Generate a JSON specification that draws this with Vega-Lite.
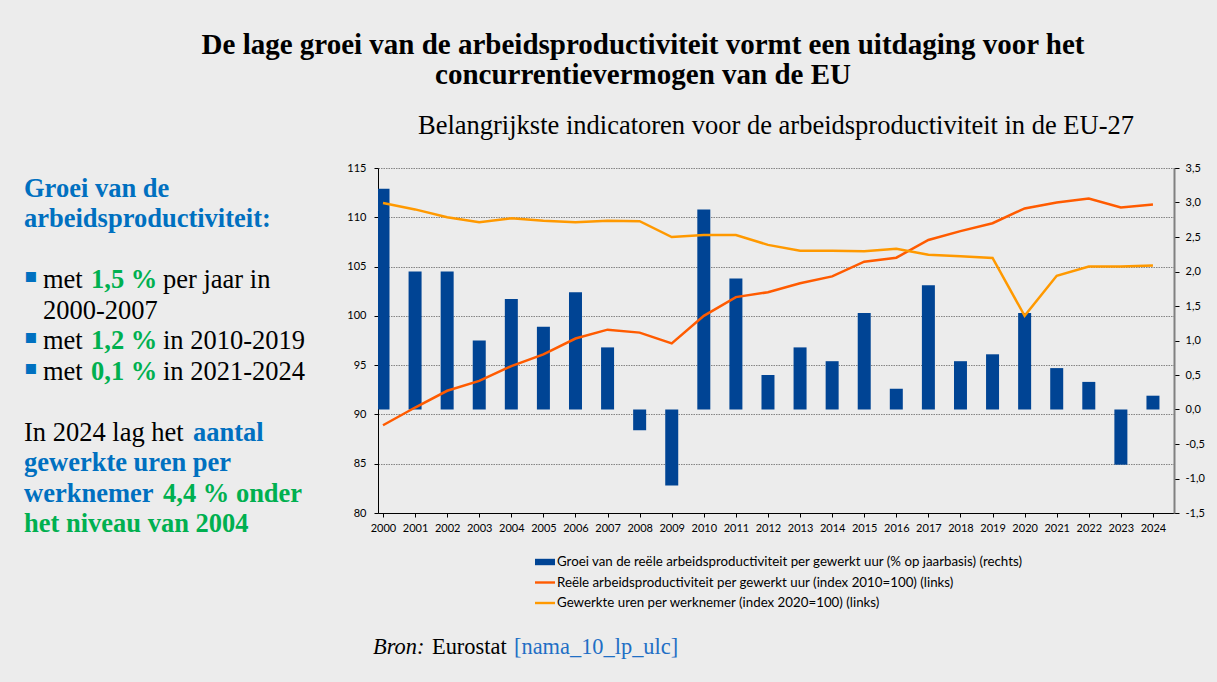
{
  "$schema": "https://vega.github.io/schema/vega-lite/v6.json",
  "background": "#ECECEC",
  "padding": {"left": 0, "top": 31, "right": 20, "bottom": 40},
  "bounds": "flush",
  "spacing": 38,
  "title": {
    "text": ["De lage groei van de arbeidsproductiviteit vormt een uitdaging voor het", "concurrentievermogen van de EU"],
    "font": "Liberation Serif",
    "fontSize": 29,
    "fontWeight": "bold",
    "lineHeight": 29.5,
    "color": "#000000",
    "anchor": "start",
    "align": "center",
    "frame": "group",
    "dx": 643,
    "offset": 23
  },
  "config": {
    "view": {"stroke": null},
    "axis": {
      "labelFont": "Lato",
      "labelFontSize": 11,
      "labelColor": "#000000",
      "domainColor": "#000000",
      "tickColor": "#000000",
      "title": null
    },
    "legend": {
      "orient": "none",
      "legendX": 535,
      "legendY": 384,
      "direction": "vertical",
      "padding": 0,
      "labelFont": "Lato",
      "labelFontSize": 13.3,
      "labelColor": "#000000",
      "labelLimit": 800,
      "labelOffset": 2,
      "symbolSize": 400,
      "rowPadding": 3.5
    }
  },
  "datasets": {
    "groei": [
      {"jaar": 2000, "groei": 3.2}, {"jaar": 2001, "groei": 2.0}, {"jaar": 2002, "groei": 2.0},
      {"jaar": 2003, "groei": 1.0}, {"jaar": 2004, "groei": 1.6}, {"jaar": 2005, "groei": 1.2},
      {"jaar": 2006, "groei": 1.7}, {"jaar": 2007, "groei": 0.9}, {"jaar": 2008, "groei": -0.3},
      {"jaar": 2009, "groei": -1.1}, {"jaar": 2010, "groei": 2.9}, {"jaar": 2011, "groei": 1.9},
      {"jaar": 2012, "groei": 0.5}, {"jaar": 2013, "groei": 0.9}, {"jaar": 2014, "groei": 0.7},
      {"jaar": 2015, "groei": 1.4}, {"jaar": 2016, "groei": 0.3}, {"jaar": 2017, "groei": 1.8},
      {"jaar": 2018, "groei": 0.7}, {"jaar": 2019, "groei": 0.8}, {"jaar": 2020, "groei": 1.4},
      {"jaar": 2021, "groei": 0.6}, {"jaar": 2022, "groei": 0.4}, {"jaar": 2023, "groei": -0.8},
      {"jaar": 2024, "groei": 0.2}
    ],
    "index": [
      {"jaar": 2000, "reeks": "Reële arbeidsproductiviteit per gewerkt uur (index 2010=100) (links)", "waarde": 88.9},
      {"jaar": 2001, "reeks": "Reële arbeidsproductiviteit per gewerkt uur (index 2010=100) (links)", "waarde": 90.7},
      {"jaar": 2002, "reeks": "Reële arbeidsproductiviteit per gewerkt uur (index 2010=100) (links)", "waarde": 92.4},
      {"jaar": 2003, "reeks": "Reële arbeidsproductiviteit per gewerkt uur (index 2010=100) (links)", "waarde": 93.4},
      {"jaar": 2004, "reeks": "Reële arbeidsproductiviteit per gewerkt uur (index 2010=100) (links)", "waarde": 94.9},
      {"jaar": 2005, "reeks": "Reële arbeidsproductiviteit per gewerkt uur (index 2010=100) (links)", "waarde": 96.1},
      {"jaar": 2006, "reeks": "Reële arbeidsproductiviteit per gewerkt uur (index 2010=100) (links)", "waarde": 97.7},
      {"jaar": 2007, "reeks": "Reële arbeidsproductiviteit per gewerkt uur (index 2010=100) (links)", "waarde": 98.6},
      {"jaar": 2008, "reeks": "Reële arbeidsproductiviteit per gewerkt uur (index 2010=100) (links)", "waarde": 98.3},
      {"jaar": 2009, "reeks": "Reële arbeidsproductiviteit per gewerkt uur (index 2010=100) (links)", "waarde": 97.2},
      {"jaar": 2010, "reeks": "Reële arbeidsproductiviteit per gewerkt uur (index 2010=100) (links)", "waarde": 100.0},
      {"jaar": 2011, "reeks": "Reële arbeidsproductiviteit per gewerkt uur (index 2010=100) (links)", "waarde": 101.9},
      {"jaar": 2012, "reeks": "Reële arbeidsproductiviteit per gewerkt uur (index 2010=100) (links)", "waarde": 102.4},
      {"jaar": 2013, "reeks": "Reële arbeidsproductiviteit per gewerkt uur (index 2010=100) (links)", "waarde": 103.3},
      {"jaar": 2014, "reeks": "Reële arbeidsproductiviteit per gewerkt uur (index 2010=100) (links)", "waarde": 104.0},
      {"jaar": 2015, "reeks": "Reële arbeidsproductiviteit per gewerkt uur (index 2010=100) (links)", "waarde": 105.5},
      {"jaar": 2016, "reeks": "Reële arbeidsproductiviteit per gewerkt uur (index 2010=100) (links)", "waarde": 105.9},
      {"jaar": 2017, "reeks": "Reële arbeidsproductiviteit per gewerkt uur (index 2010=100) (links)", "waarde": 107.7},
      {"jaar": 2018, "reeks": "Reële arbeidsproductiviteit per gewerkt uur (index 2010=100) (links)", "waarde": 108.6},
      {"jaar": 2019, "reeks": "Reële arbeidsproductiviteit per gewerkt uur (index 2010=100) (links)", "waarde": 109.4},
      {"jaar": 2020, "reeks": "Reële arbeidsproductiviteit per gewerkt uur (index 2010=100) (links)", "waarde": 110.9},
      {"jaar": 2021, "reeks": "Reële arbeidsproductiviteit per gewerkt uur (index 2010=100) (links)", "waarde": 111.5},
      {"jaar": 2022, "reeks": "Reële arbeidsproductiviteit per gewerkt uur (index 2010=100) (links)", "waarde": 111.9},
      {"jaar": 2023, "reeks": "Reële arbeidsproductiviteit per gewerkt uur (index 2010=100) (links)", "waarde": 111.0},
      {"jaar": 2024, "reeks": "Reële arbeidsproductiviteit per gewerkt uur (index 2010=100) (links)", "waarde": 111.3},
      {"jaar": 2000, "reeks": "Gewerkte uren per werknemer (index 2020=100) (links)", "waarde": 111.45},
      {"jaar": 2001, "reeks": "Gewerkte uren per werknemer (index 2020=100) (links)", "waarde": 110.8},
      {"jaar": 2002, "reeks": "Gewerkte uren per werknemer (index 2020=100) (links)", "waarde": 110.0},
      {"jaar": 2003, "reeks": "Gewerkte uren per werknemer (index 2020=100) (links)", "waarde": 109.5},
      {"jaar": 2004, "reeks": "Gewerkte uren per werknemer (index 2020=100) (links)", "waarde": 109.9},
      {"jaar": 2005, "reeks": "Gewerkte uren per werknemer (index 2020=100) (links)", "waarde": 109.65},
      {"jaar": 2006, "reeks": "Gewerkte uren per werknemer (index 2020=100) (links)", "waarde": 109.5},
      {"jaar": 2007, "reeks": "Gewerkte uren per werknemer (index 2020=100) (links)", "waarde": 109.65},
      {"jaar": 2008, "reeks": "Gewerkte uren per werknemer (index 2020=100) (links)", "waarde": 109.6},
      {"jaar": 2009, "reeks": "Gewerkte uren per werknemer (index 2020=100) (links)", "waarde": 108.0},
      {"jaar": 2010, "reeks": "Gewerkte uren per werknemer (index 2020=100) (links)", "waarde": 108.2},
      {"jaar": 2011, "reeks": "Gewerkte uren per werknemer (index 2020=100) (links)", "waarde": 108.2},
      {"jaar": 2012, "reeks": "Gewerkte uren per werknemer (index 2020=100) (links)", "waarde": 107.2},
      {"jaar": 2013, "reeks": "Gewerkte uren per werknemer (index 2020=100) (links)", "waarde": 106.6},
      {"jaar": 2014, "reeks": "Gewerkte uren per werknemer (index 2020=100) (links)", "waarde": 106.6},
      {"jaar": 2015, "reeks": "Gewerkte uren per werknemer (index 2020=100) (links)", "waarde": 106.55},
      {"jaar": 2016, "reeks": "Gewerkte uren per werknemer (index 2020=100) (links)", "waarde": 106.8},
      {"jaar": 2017, "reeks": "Gewerkte uren per werknemer (index 2020=100) (links)", "waarde": 106.2},
      {"jaar": 2018, "reeks": "Gewerkte uren per werknemer (index 2020=100) (links)", "waarde": 106.05},
      {"jaar": 2019, "reeks": "Gewerkte uren per werknemer (index 2020=100) (links)", "waarde": 105.87},
      {"jaar": 2020, "reeks": "Gewerkte uren per werknemer (index 2020=100) (links)", "waarde": 100.0},
      {"jaar": 2021, "reeks": "Gewerkte uren per werknemer (index 2020=100) (links)", "waarde": 104.07},
      {"jaar": 2022, "reeks": "Gewerkte uren per werknemer (index 2020=100) (links)", "waarde": 105.0},
      {"jaar": 2023, "reeks": "Gewerkte uren per werknemer (index 2020=100) (links)", "waarde": 105.0},
      {"jaar": 2024, "reeks": "Gewerkte uren per werknemer (index 2020=100) (links)", "waarde": 105.1}
    ],
    "tekst": [
      {"regel": 0, "kolom": 0, "tekst": "Groei van de", "soort": "kop"},
      {"regel": 1, "kolom": 0, "tekst": "arbeidsproductiviteit:", "soort": "kop"},
      {"regel": 3, "kolom": 0, "tekst": "▪", "soort": "opsomming"},
      {"regel": 3, "kolom": 1, "tekst": "met", "soort": "tekst"},
      {"regel": 3, "kolom": 2, "tekst": "1,5 %", "soort": "cijfer"},
      {"regel": 3, "kolom": 3, "tekst": "per jaar in", "soort": "tekst"},
      {"regel": 4, "kolom": 1, "tekst": "2000-2007", "soort": "tekst"},
      {"regel": 5, "kolom": 0, "tekst": "▪", "soort": "opsomming"},
      {"regel": 5, "kolom": 1, "tekst": "met", "soort": "tekst"},
      {"regel": 5, "kolom": 2, "tekst": "1,2 %", "soort": "cijfer"},
      {"regel": 5, "kolom": 3, "tekst": "in 2010-2019", "soort": "tekst"},
      {"regel": 6, "kolom": 0, "tekst": "▪", "soort": "opsomming"},
      {"regel": 6, "kolom": 1, "tekst": "met", "soort": "tekst"},
      {"regel": 6, "kolom": 2, "tekst": "0,1 %", "soort": "cijfer"},
      {"regel": 6, "kolom": 3, "tekst": "in 2021-2024", "soort": "tekst"},
      {"regel": 8, "kolom": 0, "tekst": "In 2024 lag het", "soort": "tekst"},
      {"regel": 8, "kolom": 4, "tekst": "aantal", "soort": "kop"},
      {"regel": 9, "kolom": 0, "tekst": "gewerkte uren per", "soort": "kop"},
      {"regel": 10, "kolom": 0, "tekst": "werknemer", "soort": "kop"},
      {"regel": 10, "kolom": 3, "tekst": "4,4 % onder", "soort": "cijfer"},
      {"regel": 11, "kolom": 0, "tekst": "het niveau van 2004", "soort": "cijfer"},
      {"regel": 15, "kolom": 5, "tekst": "Bron:", "soort": "bronlabel"},
      {"regel": 15, "kolom": 6, "tekst": "Eurostat", "soort": "bron"},
      {"regel": 15, "kolom": 7, "tekst": "[nama_10_lp_ulc]", "soort": "bronlink"}
    ]
  },
  "hconcat": [
    {
      "width": 340,
      "height": 345,
      "data": {"name": "tekst"},
      "encoding": {
        "x": {"field": "kolom", "type": "quantitative", "axis": null,
              "scale": {"domain": [0, 1, 2, 3, 4, 5, 6, 7], "range": [24, 43, 91, 163, 193, 373, 432, 514], "nice": false, "zero": false}},
        "y": {"field": "regel", "type": "quantitative", "axis": null,
              "scale": {"domain": [0, 11], "range": [29, 364], "nice": false, "zero": false}},
        "text": {"field": "tekst", "type": "nominal"}
      },
      "layer": [
        {"transform": [{"filter": "datum.soort === 'tekst'"}],
         "mark": {"type": "text", "align": "left", "baseline": "alphabetic", "font": "Liberation Serif", "fontSize": 26.5, "color": "#000000"}},
        {"transform": [{"filter": "datum.soort === 'kop'"}],
         "mark": {"type": "text", "align": "left", "baseline": "alphabetic", "font": "Liberation Serif", "fontSize": 26.5, "fontWeight": "bold", "color": "#0070C0"}},
        {"transform": [{"filter": "datum.soort === 'cijfer'"}],
         "mark": {"type": "text", "align": "left", "baseline": "alphabetic", "font": "Liberation Serif", "fontSize": 26.5, "fontWeight": "bold", "color": "#00B050"}},
        {"transform": [{"filter": "datum.soort === 'opsomming'"}],
         "mark": {"type": "text", "align": "left", "baseline": "alphabetic", "dy": -6, "font": "DejaVu Sans", "fontSize": 20, "color": "#0070C0"}},
        {"transform": [{"filter": "datum.soort === 'bronlabel'"}],
         "mark": {"type": "text", "align": "left", "baseline": "alphabetic", "font": "Liberation Serif", "fontSize": 22.4, "fontStyle": "italic", "color": "#000000"}},
        {"transform": [{"filter": "datum.soort === 'bron'"}],
         "mark": {"type": "text", "align": "left", "baseline": "alphabetic", "font": "Liberation Serif", "fontSize": 22.4, "color": "#000000"}},
        {"transform": [{"filter": "datum.soort === 'bronlink'"}],
         "mark": {"type": "text", "align": "left", "baseline": "alphabetic", "font": "Liberation Serif", "fontSize": 22.4, "color": "#1F6FC5"}}
      ]
    },
    {
      "width": 796,
      "height": 345,
      "title": {
        "text": "Belangrijkste indicatoren voor de arbeidsproductiviteit in de EU-27",
        "font": "Liberation Serif",
        "fontSize": 26.5,
        "fontWeight": "normal",
        "color": "#000000",
        "anchor": "middle",
        "frame": "group",
        "offset": 23
      },
      "layer": [
        {
          "data": {"name": "groei"},
          "mark": {"type": "bar", "width": 13, "clip": true},
          "encoding": {
            "x": {"field": "jaar", "type": "quantitative",
                  "scale": {"domain": [2000, 2024.5], "nice": false, "zero": false},
                  "axis": {"values": [2000, 2001, 2002, 2003, 2004, 2005, 2006, 2007, 2008, 2009, 2010, 2011, 2012, 2013, 2014, 2015, 2016, 2017, 2018, 2019, 2020, 2021, 2022, 2023, 2024],
                           "format": "d", "grid": false, "tickSize": 4, "labelPadding": 5, "labelFlush": false, "labelOverlap": false, "labelFontSize": 11}},
            "y": {"field": "groei", "type": "quantitative",
                  "scale": {"domain": [-1.5, 3.5], "nice": false, "zero": true},
                  "axis": {"orient": "right", "values": [-1.5, -1, -0.5, 0, 0.5, 1, 1.5, 2, 2.5, 3, 3.5],
                           "labelExpr": "replace(replace(format(datum.value, '.1f'), '.', ','), '−', '-')",
                           "grid": false, "domainColor": "#808080", "domainWidth": 2, "tickSize": 5, "labelPadding": 6}},
            "color": {
              "datum": "Groei van de reële arbeidsproductiviteit per gewerkt uur (% op jaarbasis) (rechts)",
              "type": "nominal",
              "scale": {
                "domain": ["Groei van de reële arbeidsproductiviteit per gewerkt uur (% op jaarbasis) (rechts)",
                           "Reële arbeidsproductiviteit per gewerkt uur (index 2010=100) (links)",
                           "Gewerkte uren per werknemer (index 2020=100) (links)"],
                "range": ["#004494", "#FF5B00", "#FF9900"]
              },
              "legend": {
                "title": null,
                "labelFontSize": 13.3,
                "encode": {
                  "symbols": {
                    "update": {
                      "shape": {"signal": "indexof(datum.value, 'Groei') === 0 ? 'M-1,-0.32H1V0.32H-1Z' : 'M-1,-0.12H1V0.12H-1Z'"},
                      "fill": {"signal": "indexof(datum.value, 'Groei') === 0 ? '#004494' : (indexof(datum.value, 'Reële') === 0 ? '#FF5B00' : '#FF9900')"},
                      "stroke": {"value": "transparent"},
                      "strokeWidth": {"value": 0},
                      "opacity": {"value": 1},
                      "fillOpacity": {"value": 1}
                    }
                  }
                }
              }
            }
          }
        },
        {
          "data": {"name": "index"},
          "mark": {"type": "line", "strokeWidth": 2.5, "clip": true},
          "encoding": {
            "x": {"field": "jaar", "type": "quantitative",
                  "axis": {"values": [2000, 2001, 2002, 2003, 2004, 2005, 2006, 2007, 2008, 2009, 2010, 2011, 2012, 2013, 2014, 2015, 2016, 2017, 2018, 2019, 2020, 2021, 2022, 2023, 2024],
                           "format": "d", "grid": false, "tickSize": 4, "labelPadding": 5, "labelFlush": false, "labelOverlap": false, "labelFontSize": 11}},
            "y": {"field": "waarde", "type": "quantitative",
                  "scale": {"domain": [80, 115], "nice": false, "zero": false},
                  "axis": {"orient": "left", "values": [80, 85, 90, 95, 100, 105, 110, 115],
                           "grid": true, "gridColor": "#858585", "gridDash": [1.5, 1], "gridWidth": 1.2,
                           "tickSize": 4, "labelPadding": 8}},
            "color": {
              "field": "reeks", "type": "nominal",
              "legend": {
                "title": null,
                "labelFontSize": 13.3,
                "encode": {
                  "symbols": {
                    "update": {
                      "shape": {"signal": "indexof(datum.value, 'Groei') === 0 ? 'M-1,-0.32H1V0.32H-1Z' : 'M-1,-0.12H1V0.12H-1Z'"},
                      "fill": {"signal": "indexof(datum.value, 'Groei') === 0 ? '#004494' : (indexof(datum.value, 'Reële') === 0 ? '#FF5B00' : '#FF9900')"},
                      "stroke": {"value": "transparent"},
                      "strokeWidth": {"value": 0},
                      "opacity": {"value": 1},
                      "fillOpacity": {"value": 1}
                    }
                  }
                }
              }
            }
          }
        }
      ],
      "resolve": {"scale": {"y": "independent"}, "axis": {"y": "independent"}}
    }
  ]
}
